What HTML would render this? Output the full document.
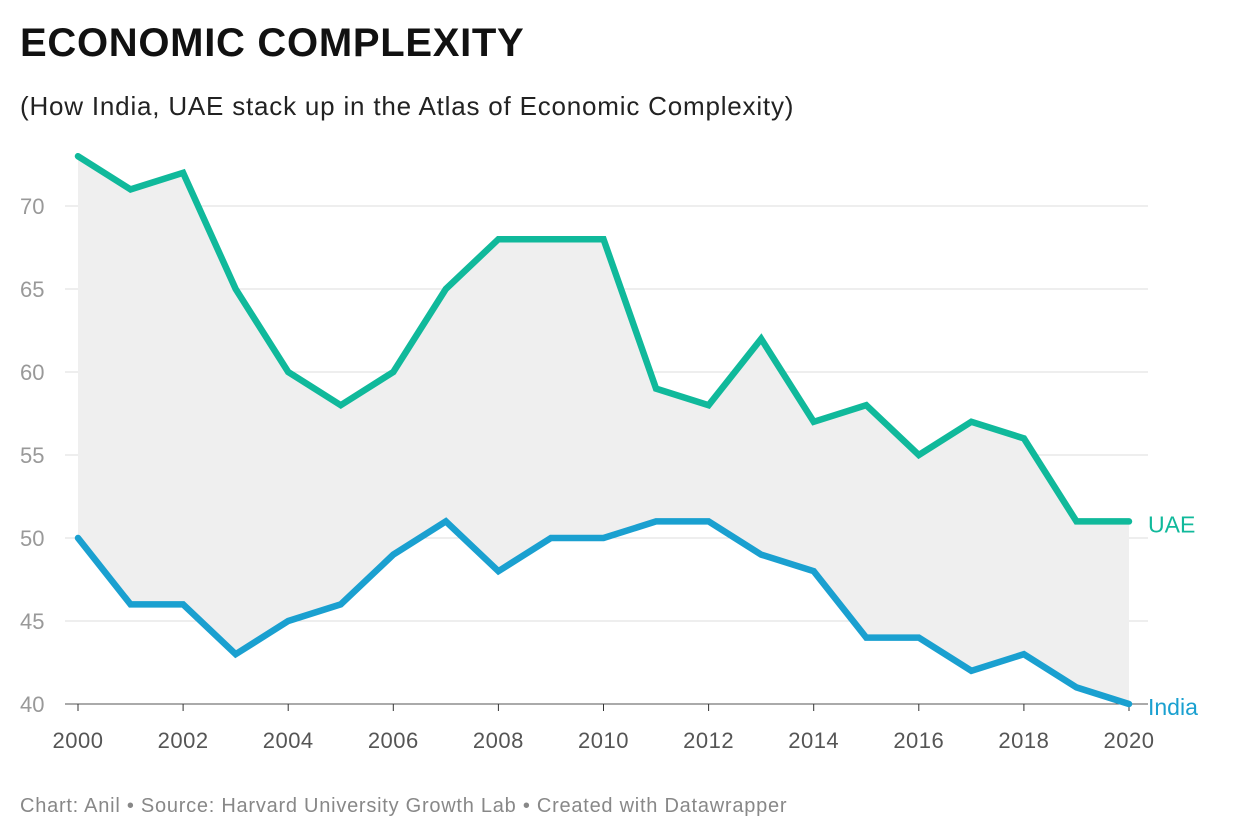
<!DOCTYPE html>
<html><head><meta charset="utf-8"><style>
body{margin:0;background:#fff;font-family:"Liberation Sans",sans-serif;}
#wrap{position:relative;width:1240px;height:840px;overflow:hidden;}
.t{position:absolute;left:20px;white-space:nowrap;}
</style></head><body>
<div id="wrap">
<div class="t" style="top:21px;font-size:40px;font-weight:bold;color:#111;letter-spacing:0.7px">ECONOMIC COMPLEXITY</div>
<div class="t" style="top:91px;font-size:26px;color:#222;letter-spacing:0.8px">(How India, UAE stack up in the Atlas of Economic Complexity)</div>
<svg id="chart" width="1240" height="840" style="position:absolute;left:0;top:0"></svg>
<div class="t" style="top:795px;font-size:20px;color:#888;letter-spacing:0.75px">Chart: Anil • Source: Harvard University Growth Lab • Created with Datawrapper</div>
</div>
<script>
const years=[2000,2001,2002,2003,2004,2005,2006,2007,2008,2009,2010,2011,2012,2013,2014,2015,2016,2017,2018,2019,2020];
const uae=[73,71,72,65,60,58,60,65,68,68,68,59,58,62,57,58,55,57,56,51,51];
const india=[50,46,46,43,45,46,49,51,48,50,50,51,51,49,48,44,44,42,43,41,40];
const yTicks=[40,45,50,55,60,65,70];
const xTicks=[2000,2002,2004,2006,2008,2010,2012,2014,2016,2018,2020];
const NS="http://www.w3.org/2000/svg";
const svg=document.getElementById('chart');
const x=v=>78+(v-2000)*(1129-78)/20;
const y=v=>704-(v-40)*(704-206)/30;
function mk(t,a){const e=document.createElementNS(NS,t);for(const k in a)e.setAttribute(k,a[k]);svg.appendChild(e);return e;}
yTicks.forEach(v=>{
  const g=mk('line',{x1:65,x2:1148,y1:y(v),y2:y(v),stroke:v===40?'#555':'#ddd','stroke-width':1});
  
  
  const t=mk('text',{x:20,y:y(v)+8,'font-size':22,fill:'#999'});t.textContent=v;
  
  
});
xTicks.forEach(v=>{
  const l=mk('line',{x1:x(v),x2:x(v),y1:704,y2:711,stroke:'#333','stroke-width':1});
  
  
  const t=mk('text',{x:x(v),y:748,'font-size':22,fill:'#555','text-anchor':'middle','letter-spacing':'0.5'});t.textContent=v;
  
  
});
let d='';years.forEach((yr,i)=>d+=(i?'L':'M')+x(yr)+','+y(uae[i]));
for(let i=years.length-1;i>=0;i--)d+='L'+x(years[i])+','+y(india[i]);
const area=mk('path',{d:d+'Z',fill:'#efefef'});


function line(arr,col,name){
  const p=mk('path',{d:years.map((yr,i)=>(i?'L':'M')+x(yr)+','+y(arr[i])).join(''),fill:'none',stroke:col,'stroke-width':6.5,'stroke-linejoin':'miter','stroke-linecap':'round'});
  
  
  const t=mk('text',{x:1148,y:y(arr[arr.length-1])+11,'font-size':23,fill:col});t.textContent=name==='uae'?'UAE':'India';
  
  
}
line(uae,'#10b99b','uae');
line(india,'#1aa0d0','india');
</script>
</body></html>
